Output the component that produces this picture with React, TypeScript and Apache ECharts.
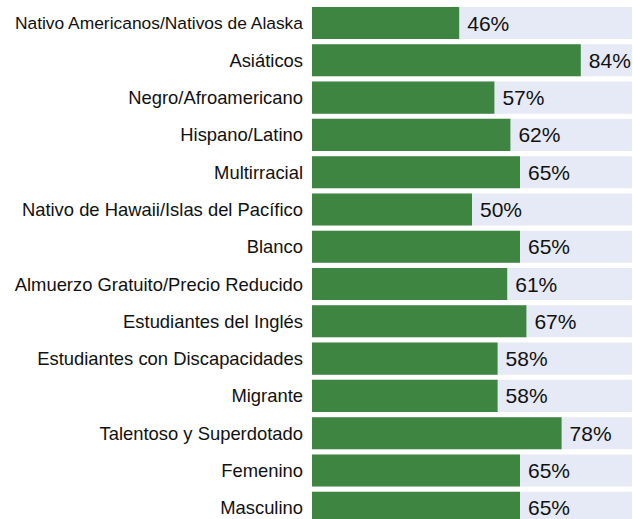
import React, { useEffect, useRef } from "react";
import * as echarts from "echarts";

const categories = [
  "Nativo Americanos/Nativos de Alaska",
  "Asiáticos",
  "Negro/Afroamericano",
  "Hispano/Latino",
  "Multirracial",
  "Nativo de Hawaii/Islas del Pacífico",
  "Blanco",
  "Almuerzo Gratuito/Precio Reducido",
  "Estudiantes del Inglés",
  "Estudiantes con Discapacidades",
  "Migrante",
  "Talentoso y Superdotado",
  "Femenino",
  "Masculino",
];
const values = [46, 84, 57, 62, 65, 50, 65, 61, 67, 58, 58, 78, 65, 65];

const FONT = "'Liberation Sans', Arial, sans-serif";

export default function App() {
  const ref = useRef<HTMLDivElement>(null);
  useEffect(() => {
    document.body.style.margin = "0";
    const chart = echarts.init(ref.current!, null, { renderer: "svg" });
    chart.setOption({
      animation: false,
      textStyle: { fontFamily: FONT },
      grid: { left: 312, top: 4.4, width: 320, height: 522, outerBoundsMode: "none" },
      xAxis: { type: "value", min: 0, max: 100, show: false },
      yAxis: {
        type: "category",
        data: categories,
        inverse: true,
        axisLine: { show: false },
        axisTick: { show: false },
        axisLabel: {
          color: "#111",
          fontSize: 18.4,
          margin: 9,
          fontFamily: FONT,
          formatter: (v: string) => (v === categories[0] ? `{s|${v}}` : v),
          rich: { s: { fontSize: 17.4, color: "#111", fontFamily: FONT } },
        },
      },
      series: [
        {
          type: "bar",
          data: values,
          barCategoryGap: "14%",
          itemStyle: { color: "#3D8540" },
          showBackground: true,
          backgroundStyle: { color: "#E6E9F6" },
          label: {
            show: true,
            position: "right",
            distance: 8,
            formatter: "{c}%",
            color: "#111",
            fontSize: 21,
            fontFamily: FONT,
          },
        },
      ],
    });
    return () => chart.dispose();
  }, []);
  return <div ref={ref} style={{ width: 633, height: 519 }} />;
}
